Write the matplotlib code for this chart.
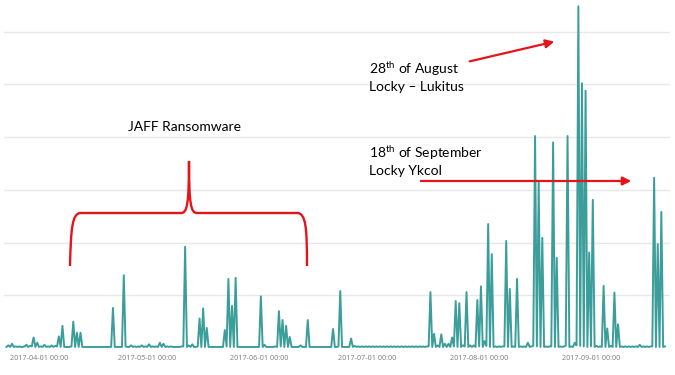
import numpy as np
import pandas as pd
import matplotlib
matplotlib.use('Agg')
import matplotlib.pyplot as plt
import matplotlib.dates as mdates
from matplotlib.path import Path
from matplotlib.patches import PathPatch, FancyArrowPatch
from matplotlib.transforms import Affine2D

# event counts per 12h bucket, 2017-03-23 .. 2017-09-21
start = '2017-03-23'
# 00:00 buckets
am = [
    2, 2, 2, 2, 2, 3, 2, 3, 2, 2,
    2, 2, 2, 2, 3, 2, 2, 2, 3, 2,
    2, 2, 2, 2, 2, 2, 2, 2, 2, 2,
    2, 2, 2, 3, 2, 2, 2, 2, 2, 2,
    2, 2, 2, 2, 2, 2, 2, 2, 2, 3,
    2, 2, 2, 3, 2, 2, 2, 2, 2, 2,
    2, 3, 2, 2, 2, 2, 2, 2, 2, 2,
    2, 2, 2, 2, 2, 2, 3, 2, 2, 2,
    2, 2, 2, 2, 2, 2, 2, 2, 2, 2,
    2, 2, 3, 2, 2, 2, 2, 2, 2, 2,
    2, 2, 2, 2, 2, 2, 2, 2, 2, 2,
    2, 2, 2, 2, 2, 2, 2, 3, 2, 2,
    2, 2, 2, 2, 3, 2, 2, 3, 2, 2,
    2, 3, 2, 4, 2, 2, 2, 2, 3, 2,
    2, 2, 2, 2, 2, 2, 4, 3, 2, 2,
    2, 3, 2, 2, 2, 4, 2, 2, 5, 4,
    3, 2, 3, 2, 2, 2, 2, 2, 2, 2,
    2, 2, 2, 2, 2, 2, 2, 2, 2, 3,
    2, 2, 2,
]
# 12:00 buckets
pm = [
    5, 8, 3, 3, 2, 6, 4, 20, 10, 3,
    6, 3, 5, 4, 22, 42, 2, 2, 50, 29,
    29, 2, 2, 2, 2, 2, 2, 2, 2, 76,
    2, 2, 138, 2, 5, 3, 3, 5, 3, 7,
    3, 3, 10, 8, 3, 3, 2, 2, 3, 192,
    5, 7, 2, 56, 75, 38, 2, 2, 2, 2,
    34, 131, 80, 133, 2, 2, 2, 2, 2, 2,
    98, 6, 2, 2, 3, 70, 53, 42, 21, 2,
    2, 5, 2, 53, 2, 2, 2, 2, 2, 2,
    36, 2, 108, 2, 2, 18, 4, 3, 3, 3,
    3, 3, 3, 3, 3, 3, 3, 3, 3, 3,
    3, 3, 3, 3, 3, 3, 3, 106, 27, 5,
    26, 8, 8, 20, 89, 85, 5, 106, 5, 5,
    91, 117, 13, 235, 178, 3, 3, 3, 203, 112,
    3, 131, 3, 3, 10, 3, 402, 314, 209, 3,
    3, 390, 171, 3, 3, 402, 3, 10, 648, 502,
    488, 181, 281, 4, 3, 118, 37, 4, 105, 45,
    3, 3, 3, 3, 3, 6, 3, 3, 3, 323,
    197, 258, 3,
]
counts = np.column_stack([am, pm]).ravel()
times = pd.date_range(start, periods=len(counts), freq='12h')

line_color = '#3b9e9a'
red = '#e5141b'

fig = plt.figure(figsize=(6.75, 3.75), dpi=100)
ax = fig.add_axes([4 / 675, 27 / 375, 666 / 675, 348 / 375])
ax.plot(times, counts, color=line_color, linewidth=1.4)

apr1 = pd.Timestamp('2017-04-01')
ax.set_xlim(apr1 - pd.Timedelta(days=9.7), apr1 + pd.Timedelta(days=174.9))
ax.set_ylim(0, 660)
ax.set_yticks([100, 200, 300, 400, 500, 600])
ax.yaxis.grid(True, color='#e8e8e8', linewidth=1)
ax.set_axisbelow(True)
ax.tick_params(axis='y', length=0, labelleft=False)
ax.xaxis.set_major_locator(mdates.MonthLocator())
ax.xaxis.set_major_formatter(mdates.DateFormatter('%Y-%m-%d %H:%M'))
ax.tick_params(axis='x', length=0, pad=5, labelsize=5.2, labelcolor='#7a7a7a')
for lab in ax.get_xticklabels():
    lab.set_fontfamily('Open Sans')
for s in ax.spines.values():
    s.set_visible(False)

# annotations placed in figure pixels (origin top-left)
px = Affine2D().scale(1 / 675, -1 / 375).translate(0, 1) + fig.transFigure
tfont = dict(family='Lato', fontsize=10, color='black')

fig.text(185, 127, 'JAFF Ransomware', transform=px, ha='center', va='center', **tfont)

brace = Path(
    [(70, 266), (71, 228), (72, 213), (81, 213),
     (181, 213),
     (187, 213), (189, 205), (189, 161),
     (189, 205), (191, 213), (197, 213),
     (297, 213),
     (306, 213), (307, 228), (307, 266)],
    [Path.MOVETO, Path.CURVE4, Path.CURVE4, Path.CURVE4,
     Path.LINETO,
     Path.CURVE4, Path.CURVE4, Path.CURVE4,
     Path.CURVE4, Path.CURVE4, Path.CURVE4,
     Path.LINETO,
     Path.CURVE4, Path.CURVE4, Path.CURVE4])
fig.add_artist(PathPatch(brace, transform=px, facecolor='none', edgecolor=red, linewidth=1.7))

plt.rcParams['mathtext.fontset'] = 'custom'
plt.rcParams['mathtext.rm'] = 'Lato'
fig.text(369, 76, r'28$^{\mathrm{th}}$ of August' + '\nLocky \u2013 Lukitus', transform=px,
         ha='left', va='center', linespacing=1.3, **tfont)
fig.text(369, 160, r'18$^{\mathrm{th}}$ of September' + '\nLocky Ykcol', transform=px,
         ha='left', va='center', linespacing=1.3, **tfont)

for tail, head in [((467, 62), (557, 41)), ((418, 181), (634, 181))]:
    fig.add_artist(FancyArrowPatch(tail, head, transform=px, color=red, linewidth=1.6,
                                   arrowstyle='-|>,head_length=5,head_width=2.5'))

fig.savefig('out.png', dpi=100)
